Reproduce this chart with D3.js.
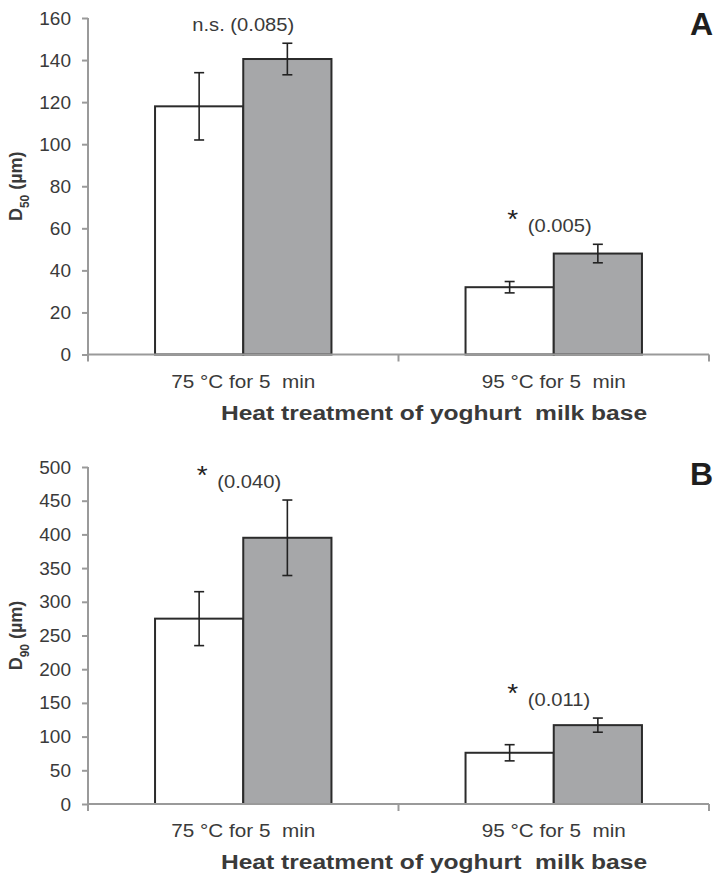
<!DOCTYPE html>
<html lang="en">

<head>
  <meta charset="UTF-8" />
  <title>Particle size of yoghurt</title>
  <script src="https://d3js.org/d3.v7.min.js"></script>
  <style>
    body {
      margin: 0;
      background: #fff;
      font-family: "Liberation Sans", Arial, sans-serif;
    }

    text {
      fill: #3a3a3a;
      white-space: pre;
    }

    .tick line,
    .domain {
      stroke: #9a9a9a;
      stroke-width: 2;
    }

    .bar {
      stroke: #2b2b2b;
      stroke-width: 2;
    }

    .err {
      stroke: #222;
      stroke-width: 1.6;
    }
  </style>
</head>

<body>
  <svg width="714" height="873"></svg>

  <script>
    // categories and series
    const categories = ["75 °C for 5  min", "95 °C for 5  min"];
    const seriesNames = ["white", "grey"];
    const xTitle = "Heat treatment of yoghurt  milk base";

    // D50 means and error (one row per category: white, grey)
    const d50Values = [[118, 140.5], [32, 48]];
    const d50Errors = [[16, 7.5], [2.7, 4.4]];
    const d50Ticks = [0, 20, 40, 60, 80, 100, 120, 140, 160];
    const d50Notes = [{ star: false, text: "n.s. (0.085)" }, { star: true, text: "(0.005)" }];

    // D90 means and error
    const d90Values = [[275, 395], [76, 117]];
    const d90Errors = [[40, 56], [12, 10.5]];
    const d90Ticks = [0, 50, 100, 150, 200, 250, 300, 350, 400, 450, 500];
    const d90Notes = [{ star: true, text: "(0.040)" }, { star: true, text: "(0.011)" }];

    const svg = d3.select("svg");
    const sx = 1.12; // the figure is a bit stretched sideways
    const left = 88, right = 709;
    const fills = { white: "#ffffff", grey: "#a6a7a9" };

    function stretched(g, x, y, str) {
      return g.append("text")
        .attr("transform", `translate(${x},${y}) scale(${sx},1)`)
        .text(str);
    }

    function panel(cfg) {
      const g = svg.append("g");
      const y = d3.scaleLinear()
        .domain([0, cfg.ticks[cfg.ticks.length - 1]])
        .range([cfg.bottom, cfg.top]);
      const x0 = d3.scaleBand()
        .domain(categories)
        .range([left, right]);
      const x1 = d3.scaleBand()
        .domain(seriesNames)
        .range([0, x0.bandwidth()])
        .paddingOuter(0.76);

      // y axis
      const yAxis = g.append("g")
        .attr("transform", `translate(${left},0)`)
        .call(d3.axisLeft(y).tickValues(cfg.ticks).tickSize(6).tickPadding(11));
      yAxis.select(".domain").attr("d", `M0,${cfg.bottom}V${cfg.top}`);
      yAxis.selectAll("text")
        .style("font-size", "19px")
        .style("fill", "#3a3a3a");

      // y label, D with subscript
      const yl = g.append("text")
        .attr("transform", `translate(22,${(cfg.top + cfg.bottom) / 2}) rotate(-90)`)
        .attr("text-anchor", "middle")
        .style("font-weight", "bold")
        .style("font-size", "18px");
      yl.append("tspan").text("D");
      yl.append("tspan").attr("baseline-shift", "sub").style("font-size", "12px").text(cfg.sub);
      yl.append("tspan").text(" (µm)");

      // bars
      const rows = categories.map((c, i) => seriesNames.map((s, j) => ({
        cat: c, series: s, value: cfg.values[i][j], err: cfg.errors[i][j]
      })));
      const groups = g.selectAll(".grp")
        .data(rows)
        .enter()
        .append("g")
        .attr("transform", (d, i) => `translate(${x0(categories[i])},0)`);

      groups.selectAll(".bar")
        .data(d => d)
        .enter()
        .append("rect")
        .attr("class", "bar")
        .attr("x", d => x1(d.series))
        .attr("width", x1.bandwidth())
        .attr("y", d => y(d.value))
        .attr("height", d => y(0) - y(d.value))
        .attr("fill", d => fills[d.series]);

      const eb = groups.selectAll(".eb")
        .data(d => d)
        .enter()
        .append("g")
        .attr("class", "err")
        .attr("transform", d => `translate(${x1(d.series) + x1.bandwidth() / 2},0)`);
      eb.append("line")
        .attr("y1", d => y(d.value - d.err))
        .attr("y2", d => y(d.value + d.err));
      eb.append("line")
        .attr("x1", -5).attr("x2", 5)
        .attr("y1", d => y(d.value + d.err))
        .attr("y2", d => y(d.value + d.err));
      eb.append("line")
        .attr("x1", -5).attr("x2", 5)
        .attr("y1", d => y(d.value - d.err))
        .attr("y2", d => y(d.value - d.err));

      // x axis with ticks on the category edges
      const xAxis = g.append("g")
        .attr("transform", `translate(0,${cfg.bottom})`);
      xAxis.append("path")
        .attr("class", "domain")
        .attr("d", `M${left},0H${right}`);
      xAxis.selectAll(".edge")
        .data(categories.map(c => x0(c)).concat([right]))
        .enter()
        .append("line")
        .attr("class", "edge")
        .attr("stroke", "#9a9a9a")
        .attr("stroke-width", 2)
        .attr("x1", d => d).attr("x2", d => d)
        .attr("y1", 0).attr("y2", 7);

      categories.forEach(c => {
        stretched(g, x0(c) + x0.bandwidth() / 2, cfg.bottom + 33, c)
          .attr("text-anchor", "middle")
          .style("font-size", "18.5px");
      });
      stretched(g, 434, cfg.bottom + 65, xTitle)
        .attr("text-anchor", "middle")
        .style("font-weight", "bold")
        .style("font-size", "20.5px")
        .attr("transform", `translate(434,${cfg.bottom + 65}) scale(1.2,1)`);

      // significance notes above each group
      cfg.notes.forEach((n, i) => {
        const cx = x0(categories[i]) + x0.bandwidth() / 2;
        const top = d3.max(cfg.values[i].map((v, j) => v + cfg.errors[i][j]));
        const base = y(top) - 12;
        if (n.star) {
          stretched(g, cx - 41, base - 4, "*")
            .attr("text-anchor", "middle")
            .style("font-size", "25px")
            .style("fill", "#222");
          stretched(g, cx - 26, base, n.text).style("font-size", "18px");
        } else {
          stretched(g, cx, base, n.text)
            .attr("text-anchor", "middle")
            .style("font-size", "18px");
        }
      });

      // panel letter
      g.append("text")
        .attr("x", 713)
        .attr("y", cfg.letterY)
        .attr("text-anchor", "end")
        .style("font-weight", "bold")
        .style("font-size", "32px")
        .style("fill", "#1e1e1e")
        .text(cfg.letter);
    }

    panel({
      top: 18, bottom: 354.5, ticks: d50Ticks, values: d50Values, errors: d50Errors,
      notes: d50Notes, sub: "50", letter: "A", letterY: 35
    });
    panel({
      top: 467, bottom: 804, ticks: d90Ticks, values: d90Values, errors: d90Errors,
      notes: d90Notes, sub: "90", letter: "B", letterY: 485
    });
  </script>
</body>

</html>
